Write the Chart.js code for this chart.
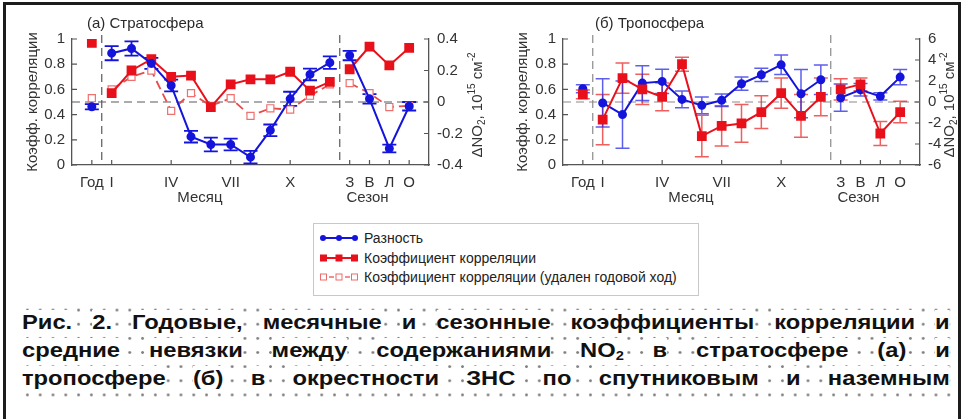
<!DOCTYPE html>
<html>
<head>
<meta charset="utf-8">
<script src="https://cdn.jsdelivr.net/npm/chart.js"></script>
<style>
  html, body { margin: 0; padding: 0; background: #fff; }
  body { width: 968px; height: 419px; position: relative; overflow: hidden; font-family: "Liberation Sans", Arial, sans-serif; color: #333; }
  #frame { position: absolute; left: 3px; top: 2px; width: 958px; height: 440px; border: 3px solid #1c1c1c; box-sizing: border-box; }
  canvas { position: absolute; top: 0; }
  #ca { left: 0; }
  #cb { left: 484px; }
  .ptitle { position: absolute; top: 14px; font-size: 15px; color: #2a2a2a; }
  #legend { position: absolute; left: 313px; top: 223px; width: 386px; height: 73px; border: 1px solid #c8c8c8; box-sizing: border-box; font-size: 14px; color: #222; }
  #legend .row { position: absolute; left: 5px; height: 18px; display: flex; align-items: center; }
  #legend svg { margin-right: 5px; }
  #caption { position: absolute; left: 21px; top: 303px; width: 935px; height: 100px;
    background-image: radial-gradient(circle, #808080 1.1px, transparent 1.6px);
    background-size: 12.8px 14.15px; background-position: 0 0; }
  #caption .line { position: absolute; left: 1px; width: 821px; height: 28.3px; line-height: 28.3px;
    transform: scaleX(1.13); transform-origin: 0 0;
    font-size: 21px; font-weight: bold; color: #111; text-align: justify; text-align-last: justify; white-space: nowrap; }
  #caption .line span { background: #fff; }
  #caption sub { font-size: 13px; vertical-align: -3px; line-height: 0; }
</style>
</head>
<body>
<div id="frame"></div>
<canvas id="ca" width="490" height="215"></canvas>
<canvas id="cb" width="484" height="215"></canvas>
<div class="ptitle" style="left:87px">(а) Стратосфера</div>
<div class="ptitle" style="left:595px">(б) Тропосфера</div>

<div id="legend">
  <div class="row" style="top:5px">
    <svg width="40" height="12"><line x1="2" y1="6" x2="38" y2="6" stroke="#1414dc" stroke-width="2"/><circle cx="4" cy="6" r="3" fill="#1414dc"/><circle cx="20" cy="6" r="3" fill="#1414dc"/><circle cx="36" cy="6" r="3" fill="#1414dc"/></svg>
    <span>Разность</span>
  </div>
  <div class="row" style="top:25px">
    <svg width="40" height="12"><line x1="2" y1="6" x2="38" y2="6" stroke="#e8101a" stroke-width="2"/><rect x="1" y="2.5" width="7" height="7" fill="#e8101a"/><rect x="16.5" y="2.5" width="7" height="7" fill="#e8101a"/><rect x="32" y="2.5" width="7" height="7" fill="#e8101a"/></svg>
    <span>Коэффициент корреляции</span>
  </div>
  <div class="row" style="top:44px">
    <svg width="40" height="12"><line x1="2" y1="6" x2="38" y2="6" stroke="#ee6a6a" stroke-width="1.5" stroke-dasharray="5,3"/><rect x="1.5" y="3" width="6" height="6" fill="#fff" stroke="#ee6a6a"/><rect x="17" y="3" width="6" height="6" fill="#fff" stroke="#ee6a6a"/><rect x="32.5" y="3" width="6" height="6" fill="#fff" stroke="#ee6a6a"/></svg>
    <span>Коэффициент корреляции (удален годовой ход)</span>
  </div>
</div>

<div id="caption">
  <div class="line" style="top:4.5px"><span>Рис.</span> <span>2.</span> <span>Годовые,</span> <span>месячные</span> <span>и</span> <span>сезонные</span> <span>коэффициенты</span> <span>корреляции</span> <span>и</span></div>
  <div class="line" style="top:32.8px"><span>средние</span> <span>невязки</span> <span>между</span> <span>содержаниями</span> <span>NO<sub>2</sub></span> <span>в</span> <span>стратосфере</span> <span>(а)</span> <span>и</span></div>
  <div class="line" style="top:61.1px"><span>тропосфере</span> <span>(б)</span> <span>в</span> <span>окрестности</span> <span>ЗНС</span> <span>по</span> <span>спутниковым</span> <span>и</span> <span>наземным</span></div>
</div>

<script>
// categories: index 0 = year, 1..12 = months, 13..16 = seasons
const categories = ['Год', 'I', 'II', 'III', 'IV', 'V', 'VI', 'VII', 'VIII', 'IX', 'X', 'XI', 'XII', 'З', 'В', 'Л', 'О'];
const xTickPos = [0, 1, 4, 7, 10, 13, 14, 15, 16];
const xTickText = ['Год', 'I', 'IV', 'VII', 'X', 'З', 'В', 'Л', 'О'];
const corrTicks = [0, 0.2, 0.4, 0.6, 0.8, 1];

// (а) stratosphere
const strDiff = [-0.03, 0.31, 0.34, 0.245, 0.105, -0.22, -0.27, -0.27, -0.35, -0.18, 0.02, 0.175, 0.25, 0.295, 0.02, -0.295, -0.027];
const strDiffErr = [0.017, 0.045, 0.045, 0.035, 0.037, 0.037, 0.044, 0.037, 0.04, 0.037, 0.045, 0.037, 0.04, 0.03, 0.03, 0.025, 0.027];
const strCorr = [0.97, 0.57, 0.75, 0.84, 0.70, 0.71, 0.46, 0.64, 0.68, 0.68, 0.74, 0.59, 0.66, 0.76, 0.94, 0.79, 0.93];
const strCorrDes = [0.53, 0.60, 0.70, 0.75, 0.43, 0.57, 0.47, 0.53, 0.39, 0.45, 0.44, 0.55, 0.64, 0.65, 0.57, 0.46, 0.47];

// (б) troposphere
const tropDiff = [1.26, -0.09, -1.2, 1.8, 1.96, 0.25, -0.32, 0.16, 1.74, 2.59, 3.54, 0.79, 2.12, 0.41, 1.17, 0.54, 2.37];
const tropDiffErr = [0.38, 2.3, 3.2, 1.65, 1.15, 0.8, 0.8, 0.6, 0.63, 0.63, 0.93, 2.3, 1.4, 1.3, 0.6, 0.35, 0.73];
const tropCorr = [0.56, 0.36, 0.69, 0.60, 0.54, 0.80, 0.23, 0.31, 0.33, 0.42, 0.57, 0.39, 0.54, 0.60, 0.64, 0.25, 0.42];
const tropCorrErr = [0.035, 0.2, 0.12, 0.12, 0.11, 0.055, 0.165, 0.16, 0.15, 0.13, 0.12, 0.17, 0.15, 0.085, 0.05, 0.095, 0.085];

const strTicks = [-0.4, -0.2, 0, 0.2, 0.4];
const tropTicks = [-6, -4, -2, 0, 2, 4, 6];

const BLUE = '#1414dc';
const RED = '#e8101a';
const FONT = 'Liberation Sans, Arial, sans-serif';

// year / months / seasons, with gaps between the groups
function points(values) {
  const out = [];
  values.forEach((v, i) => {
    if (i === 1 || i === 13) out.push({ x: i - 0.5, y: null });
    out.push({ x: i, y: v });
  });
  return out;
}
function errs(values) {
  const out = [];
  values.forEach((v, i) => {
    if (i === 1 || i === 13) out.push(null);
    out.push(v);
  });
  return out;
}

const errorBars = {
  id: 'errorBars',
  beforeDatasetsDraw(chart) {
    const ctx = chart.ctx;
    const xs = chart.scales.x;
    const area = chart.chartArea;
    ctx.save();
    // reference lines
    ctx.strokeStyle = chart.options.plugins.refColor;
    ctx.lineWidth = 1.2;
    ctx.setLineDash([8, 5]);
    ctx.beginPath();
    const yh = chart.scales.y.getPixelForValue(0.5);
    ctx.moveTo(area.left, yh); ctx.lineTo(area.right, yh);
    [0.5, 12.5].forEach(v => {
      const px = xs.getPixelForValue(v);
      ctx.moveTo(px, area.top - 4); ctx.lineTo(px, area.bottom);
    });
    ctx.stroke();
    ctx.setLineDash([]);
    chart.data.datasets.forEach(ds => {
      if (!ds.err) return;
      const ys = chart.scales[ds.yAxisID];
      ctx.strokeStyle = ds.errColor;
      ctx.lineWidth = ds.errWidth;
      ctx.beginPath();
      ds.data.forEach((p, j) => {
        const e = ds.err[j];
        if (p.y == null || e == null) return;
        const x = xs.getPixelForValue(p.x);
        const y1 = ys.getPixelForValue(p.y + e);
        const y2 = ys.getPixelForValue(p.y - e);
        ctx.moveTo(x, y1); ctx.lineTo(x, y2);
        ctx.moveTo(x - 7, y1); ctx.lineTo(x + 7, y1);
        ctx.moveTo(x - 7, y2); ctx.lineTo(x + 7, y2);
      });
      ctx.stroke();
    });
    ctx.restore();
  },
  afterDraw(chart) {
    const ctx = chart.ctx;
    const { x, y, y2 } = chart.scales;
    const area = chart.chartArea;
    ctx.save();
    // inward ticks
    ctx.strokeStyle = '#555';
    ctx.lineWidth = 1.2;
    ctx.beginPath();
    y.ticks.forEach(t => { const p = y.getPixelForValue(t.value); ctx.moveTo(area.left, p); ctx.lineTo(area.left + 5, p); });
    y2.ticks.forEach(t => { const p = y2.getPixelForValue(t.value); ctx.moveTo(area.right, p); ctx.lineTo(area.right - 5, p); });
    xTickPos.forEach(v => { const p = x.getPixelForValue(v); ctx.moveTo(p, area.bottom); ctx.lineTo(p, area.bottom - 5); });
    ctx.stroke();
    // group labels under the x axis
    ctx.fillStyle = '#333';
    ctx.font = '15px ' + FONT;
    ctx.textAlign = 'center';
    ctx.textBaseline = 'middle';
    ctx.fillText('Месяц', x.getPixelForValue(5.45), 198);
    ctx.fillText('Сезон', x.getPixelForValue(13.9), 198);
    // right axis title, reading bottom to top
    const parts = [['ΔNO', 0, 15], ['2', 4, 10], [', 10', 0, 15], ['15', -6, 10], [' см', 0, 15], ['-2', -6, 10]];
    ctx.translate(chart.options.plugins.rightTitleX, (area.top + area.bottom) / 2 + 3);
    ctx.rotate(-Math.PI / 2);
    ctx.textAlign = 'left';
    let w = 0;
    parts.forEach(p => { ctx.font = p[2] + 'px ' + FONT; w += ctx.measureText(p[0]).width; });
    let cx = -w / 2;
    parts.forEach(p => {
      ctx.font = p[2] + 'px ' + FONT;
      ctx.fillText(p[0], cx, p[1]);
      cx += ctx.measureText(p[0]).width;
    });
    ctx.restore();
  }
};

function fmt(v) { return String(Number(v.toFixed(1))); }

function makeChart(canvas, opt) {
  return new Chart(canvas, {
    type: 'line',
    data: { datasets: opt.datasets },
    options: {
      responsive: false,
      animation: false,
      layout: { padding: { top: 39, left: 0, right: 0, bottom: 0 } },
      plugins: { legend: { display: false }, tooltip: { enabled: false }, refColor: opt.refColor, rightTitleX: opt.rightTitleX },
      scales: {
        x: {
          type: 'linear', min: -1, max: 17,
          afterBuildTicks: s => { s.ticks = xTickPos.map(v => ({ value: v })); },
          afterFit: s => { s.height = 50; },
          grid: { display: false, drawTicks: false },
          border: { color: '#555', width: 1.3 },
          ticks: { autoSkip: false, maxRotation: 0, padding: 9, color: '#333', font: { size: 15, family: FONT },
                   callback: v => xTickText[xTickPos.indexOf(v)] }
        },
        y: {
          position: 'left', min: 0, max: 1,
          afterBuildTicks: s => { s.ticks = corrTicks.map(v => ({ value: v })); },
          afterFit: s => { s.width = opt.leftWidth; },
          grid: { display: false, drawTicks: false },
          border: { color: '#555', width: 1.3 },
          ticks: { padding: 7, color: '#333', font: { size: 15, family: FONT }, callback: fmt },
          title: { display: true, text: 'Коэфф. корреляции', color: '#333', font: { size: 15, family: FONT }, padding: { top: opt.titlePad, bottom: 0 } }
        },
        y2: {
          position: 'right', min: opt.rightTicks[0], max: opt.rightTicks[opt.rightTicks.length - 1],
          afterBuildTicks: s => { s.ticks = opt.rightTicks.map(v => ({ value: v })); },
          afterFit: s => { s.width = opt.rightWidth; },
          grid: { display: false, drawTicks: false },
          border: { color: '#555', width: 1.3 },
          ticks: { padding: 8, color: '#333', font: { size: 15, family: FONT }, callback: fmt }
        }
      }
    },
    plugins: [errorBars]
  });
}

makeChart(document.getElementById('ca'), {
  leftWidth: 72, rightWidth: 61, titlePad: 24, rightTitleX: 478, refColor: '#5a5a5a', rightTicks: strTicks,
  datasets: [
    { label: 'Разность', data: points(strDiff), err: errs(strDiffErr), errColor: BLUE, errWidth: 1.8,
      yAxisID: 'y2', borderColor: BLUE, backgroundColor: BLUE, borderWidth: 2, pointRadius: 3.5, pointStyle: 'circle', spanGaps: false },
    { label: 'Коэффициент корреляции', data: points(strCorr), yAxisID: 'y', borderColor: RED, backgroundColor: RED,
      borderWidth: 2, pointRadius: 5.5, pointStyle: 'rect', spanGaps: false },
    { label: 'Коэффициент корреляции (удален годовой ход)', data: points(strCorrDes), yAxisID: 'y', borderColor: '#e84a4a',
      borderDash: [9, 5], borderWidth: 1.8, pointRadius: 5, pointStyle: 'rect', pointBackgroundColor: '#fff',
      pointBorderColor: '#f07070', pointBorderWidth: 1.2, spanGaps: false }
  ]
});

makeChart(document.getElementById('cb'), {
  leftWidth: 79, rightWidth: 48, titlePad: 30, rightTitleX: 466, refColor: '#8a8a8a', rightTicks: tropTicks,
  datasets: [
    { label: 'Коэффициент корреляции', data: points(tropCorr), err: errs(tropCorrErr), errColor: 'rgba(235,40,40,0.75)', errWidth: 1.5,
      yAxisID: 'y', borderColor: RED, backgroundColor: RED, borderWidth: 2, pointRadius: 5.5, pointStyle: 'rect', spanGaps: false },
    { label: 'Разность', data: points(tropDiff), err: errs(tropDiffErr), errColor: 'rgba(40,40,230,0.75)', errWidth: 1.5,
      yAxisID: 'y2', borderColor: BLUE, backgroundColor: BLUE, borderWidth: 2, pointRadius: 3.5, pointStyle: 'circle', spanGaps: false }
  ]
});
</script>
</body>
</html>
